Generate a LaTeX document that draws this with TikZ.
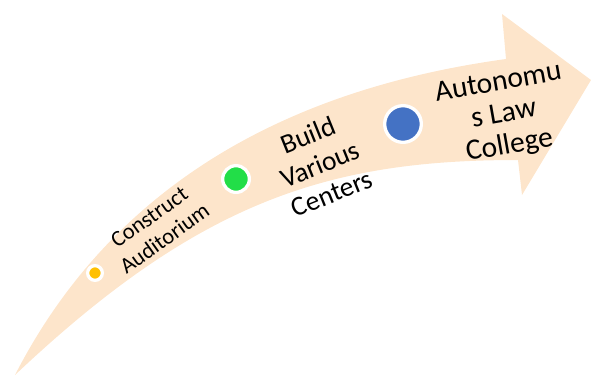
\documentclass[tikz,border=0pt]{standalone}
\usepackage{fontspec}
\setmainfont{Carlito}
\definecolor{peach}{RGB}{253,229,203}
\definecolor{dotgold}{RGB}{255,192,0}
\definecolor{dotgreen}{RGB}{34,222,72}
\definecolor{dotblue}{RGB}{68,114,196}
\tikzset{
  dot/.style={circle, draw=white, line width=3.3pt, inner sep=0pt},
  steplabel/.style={align=center, text=black, inner sep=0pt}
}

\begin{document}
\begin{tikzpicture}[x=1pt, y=-1pt]
	%%%%% START %%%%%
	\useasboundingbox (0,0) rectangle (591,376);
	
	% curved arrow
	\fill[peach] (15,375) .. controls (110,190) and (280,90) .. (506,59)
		-- (502,14) -- (591,80) -- (522,195) -- (518,160)
		.. controls (330,160) and (200,200) .. (15,375) -- cycle;
	
	% milestones
	\node[dot, fill=dotgold, minimum size=14.7pt] (dotA) at (95,273) {};
	\node[dot, fill=dotgreen, minimum size=26.7pt] (dotB) at (236,179) {};
	\node[dot, fill=dotblue, minimum size=36.7pt] (dotC) at (403,124) {};
	
	\node[steplabel, rotate=35.5, font=\fontsize{22.5}{26.5}\selectfont] (lblA) at (157,228) {Construct\\Auditorium};
	\node[steplabel, rotate=22, font=\fontsize{27.5}{31.5}\selectfont] (lblB) at (320,164) {Build\\Various\\Centers};
	\node[steplabel, rotate=10, font=\fontsize{29.5}{32}\selectfont] (lblC) at (504,115) {Autonomu\\s Law\\College};
	%%%%% END %%%%%
\end{tikzpicture}
\end{document}
